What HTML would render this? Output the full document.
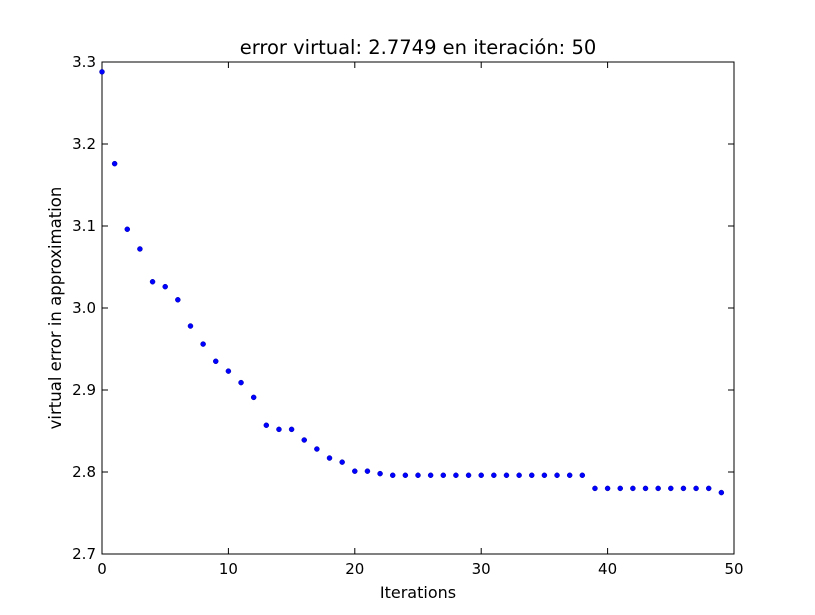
<!DOCTYPE html>
<html><head><meta charset="utf-8"><style>
body{margin:0;background:#fff;}
svg{display:block;font-family:"DejaVu Sans","Liberation Sans",sans-serif;}
</style></head><body>
<svg id="chart" width="815" height="615"></svg>
<script>
const iterations = [];
for (let i = 0; i < 50; i++) iterations.push(i);
const errors = [3.288,3.176,3.096,3.072,3.032,3.026,3.010,2.978,2.956,2.935,
2.923,2.909,2.891,2.857,2.852,2.852,2.839,2.828,2.817,2.812,
2.801,2.801,2.798,2.796,2.796,2.796,2.796,2.796,2.796,2.796,
2.796,2.796,2.796,2.796,2.796,2.796,2.796,2.796,2.796,2.780,
2.780,2.780,2.780,2.780,2.780,2.780,2.780,2.780,2.780,2.7749];
const xTicks = [0,10,20,30,40,50];
const yTicks = [2.7,2.8,2.9,3.0,3.1,3.2,3.3];
const titleText = "error virtual: 2.7749 en iteración: 50";

const L=102,R=734,T=62,B=554;
const xs = v => L + (v-0)/(50-0)*(R-L);
const ys = v => B - (v-2.7)/(3.3-2.7)*(B-T);
const svg = document.getElementById('chart');
const NS='http://www.w3.org/2000/svg';
function mk(tag, attrs, parent){const e=document.createElementNS(NS,tag);for(const k in attrs)e.setAttribute(k,attrs[k]);(parent||svg).appendChild(e);return e;}

const frame = mk('rect',{x:L,y:T,width:R-L,height:B-T,fill:'#fff',stroke:'#000','stroke-width':1});



xTicks.forEach(v=>{
  const x=xs(v);
  const g=mk('g',{});
  
  
  mk('line',{x1:x,x2:x,y1:B,y2:B-6,stroke:'#000'},g);
  mk('line',{x1:x,x2:x,y1:T,y2:T+6,stroke:'#000'},g);
  const t=mk('text',{x:x,y:B+20,'text-anchor':'middle','font-size':15},g);
  t.textContent=v;
});
yTicks.forEach(v=>{
  const y=ys(v);
  const g=mk('g',{});
  
  
  mk('line',{x1:L,x2:L+6,y1:y,y2:y,stroke:'#000'},g);
  mk('line',{x1:R,x2:R-6,y1:y,y2:y,stroke:'#000'},g);
  const t=mk('text',{x:L-6,y:y+5,'text-anchor':'end','font-size':15},g);
  t.textContent=v.toFixed(1);
});

iterations.forEach((it,i)=>{
  const c=mk('circle',{cx:xs(it),cy:ys(errors[i]),r:2.5,fill:'#0000ff',stroke:'#0000aa','stroke-width':0.5});
  
  
});

const title=mk('text',{x:(L+R)/2,y:54,'text-anchor':'middle','font-size':19.5});
title.textContent=titleText;


const xl=mk('text',{x:(L+R)/2,y:598,'text-anchor':'middle','font-size':16});
xl.textContent='Iterations';


const yl=mk('text',{x:0,y:0,'text-anchor':'middle','font-size':16.5,transform:`translate(61,${(T+B)/2}) rotate(-90)`});
yl.textContent='virtual error in approximation';


</script>
</body></html>
